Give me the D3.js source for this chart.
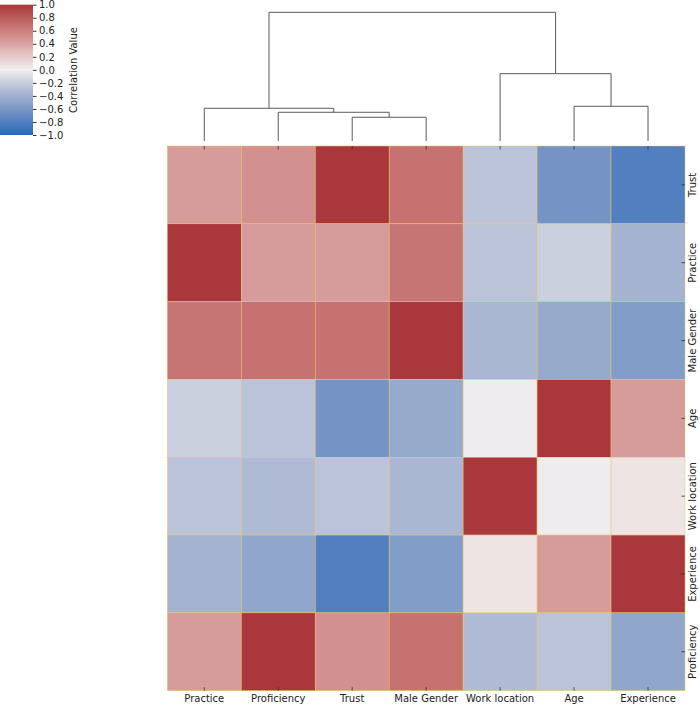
<!DOCTYPE html>
<html>
<head>
<meta charset="utf-8">
<script src="https://cdn.jsdelivr.net/npm/d3@7"></script>
<style>
  body { margin: 0; background: #fff; }
  text { font-family: "DejaVu Sans", sans-serif; fill: #222; }
</style>
</head>
<body>
<div id="chart"></div>
<script>
// correlation matrix, variables in this order
const variables = ["Practice", "Proficiency", "Trust", "Male Gender", "Work location", "Age", "Experience"];
const corr = [
  [ 1.00,  0.44,  0.44,  0.66, -0.26, -0.18, -0.38],
  [ 0.44,  1.00,  0.50,  0.68, -0.32, -0.26, -0.48],
  [ 0.44,  0.50,  1.00,  0.68, -0.26, -0.62, -0.80],
  [ 0.66,  0.68,  0.68,  1.00, -0.35, -0.45, -0.55],
  [-0.26, -0.32, -0.26, -0.35,  1.00, -0.02,  0.06],
  [-0.18, -0.26, -0.62, -0.45, -0.02,  1.00,  0.44],
  [-0.38, -0.48, -0.80, -0.55,  0.06,  0.44,  1.00]
];

// order of rows and columns as shown
const rowOrder = ["Trust", "Practice", "Male Gender", "Age", "Work location", "Experience", "Proficiency"];
const colOrder = ["Practice", "Proficiency", "Trust", "Male Gender", "Work location", "Age", "Experience"];

// column linkage: [left, right, height], clusters named c0, c1, ...
const linkage = [
  ["Trust", "Male Gender", 0.238],
  ["Proficiency", "c0", 0.288],
  ["Practice", "c1", 0.328],
  ["Age", "Experience", 0.348],
  ["Work location", "c3", 0.675],
  ["c2", "c4", 1.29]
];

const cbarTicks = [1.0, 0.8, 0.6, 0.4, 0.2, 0.0, -0.2, -0.4, -0.6, -0.8, -1.0];

// vlag-like diverging colormap
const cmapStops = [-1, -0.75, -0.5, -0.25, 0, 0.25, 0.5, 0.75, 1];
const cmapColors = ["#2369bd", "#5c84c0", "#8ca3c9", "#bcc4d8", "#f2f0f0", "#e4bfbf", "#d29090", "#c06664", "#a9373b"];

const width = 700, height = 705;
const hm = { left: 167.3, top: 146, right: 685, bottom: 690.7 };

const svg = d3.select("#chart").append("svg")
    .attr("width", width)
    .attr("height", height);

const color = d3.scaleLinear()
    .domain(cmapStops)
    .range(cmapColors)
    .interpolate(d3.interpolateRgb)
    .clamp(true);

const x = d3.scaleBand().domain(colOrder).range([hm.left, hm.right]);
const y = d3.scaleBand().domain(rowOrder).range([hm.top, hm.bottom]);

// heatmap cells
const cells = [];
rowOrder.forEach(r => {
  colOrder.forEach(c => {
    cells.push({ r, c, v: corr[variables.indexOf(r)][variables.indexOf(c)] });
  });
});

svg.append("g").selectAll("rect")
  .data(cells)
  .join("rect")
    .attr("x", d => x(d.c))
    .attr("y", d => y(d.r))
    .attr("width", x.bandwidth())
    .attr("height", y.bandwidth())
    .attr("fill", d => color(d.v))
    .attr("stroke", "#ebc566")
    .attr("stroke-width", 0.5);

// ticks (inside) and labels
const tickG = svg.append("g").attr("stroke", "#333").attr("stroke-width", 0.8);
colOrder.forEach(c => {
  const cx = x(c) + x.bandwidth() / 2;
  tickG.append("line").attr("x1", cx).attr("x2", cx).attr("y1", hm.bottom).attr("y2", hm.bottom - 3.5);
  tickG.append("line").attr("x1", cx).attr("x2", cx).attr("y1", hm.top).attr("y2", hm.top + 3.5);
});
rowOrder.forEach(r => {
  const cy = y(r) + y.bandwidth() / 2;
  tickG.append("line").attr("x1", hm.right).attr("x2", hm.right - 3.5).attr("y1", cy).attr("y2", cy);
});

svg.append("g").selectAll("text")
  .data(colOrder)
  .join("text")
    .attr("x", d => x(d) + x.bandwidth() / 2)
    .attr("y", 702)
    .attr("text-anchor", "middle")
    .attr("font-size", 10)
    .text(d => d);

svg.append("g").selectAll("text")
  .data(rowOrder)
  .join("text")
    .attr("transform", d => `translate(695.5,${y(d) + y.bandwidth() / 2}) rotate(-90)`)
    .attr("text-anchor", "middle")
    .attr("font-size", 10)
    .text(d => d);

// dendrogram over columns
const dendY = d3.scaleLinear().domain([0, 1.29]).range([141, 12.3]);
const nodes = {};
colOrder.forEach(c => { nodes[c] = { x: x(c) + x.bandwidth() / 2, h: 0 }; });
const dendG = svg.append("g")
    .attr("fill", "none")
    .attr("stroke", "#5a5a5a")
    .attr("stroke-width", 1);
linkage.forEach(([a, b, h], i) => {
  const na = nodes[a], nb = nodes[b];
  dendG.append("path")
    .attr("d", `M${na.x},${dendY(na.h)}V${dendY(h)}H${nb.x}V${dendY(nb.h)}`);
  nodes["c" + i] = { x: (na.x + nb.x) / 2, h };
});

// colorbar
const cb = { x: 0, w: 33, top: 4.7, bottom: 135 };
const cbY = d3.scaleLinear().domain([-1, 1]).range([cb.bottom, cb.top]);

const grad = svg.append("defs").append("linearGradient")
    .attr("id", "cbar")
    .attr("x1", 0).attr("y1", 1).attr("x2", 0).attr("y2", 0);
d3.range(0, 1.0001, 0.05).forEach(t => {
  grad.append("stop")
    .attr("offset", t)
    .attr("stop-color", color(-1 + 2 * t));
});

svg.append("rect")
    .attr("x", cb.x)
    .attr("y", cb.top)
    .attr("width", cb.w)
    .attr("height", cb.bottom - cb.top)
    .attr("fill", "url(#cbar)");

const cbAxis = svg.append("g")
    .attr("transform", `translate(${cb.x + cb.w},0)`)
    .call(d3.axisRight(cbY)
      .tickValues(cbarTicks)
      .tickSize(3.5)
      .tickPadding(2.5)
      .tickFormat(d => d3.format(".1f")(d).replace("-", "\u2212")));
cbAxis.select(".domain").remove();
cbAxis.selectAll("line").attr("stroke", "#333");
cbAxis.selectAll("text")
    .attr("font-size", 10)
    .attr("font-family", "DejaVu Sans, sans-serif")
    .attr("fill", "#222");

svg.append("text")
    .attr("transform", `translate(76.5,70) rotate(-90)`)
    .attr("text-anchor", "middle")
    .attr("font-size", 10)
    .text("Correlation Value");
</script>
</body>
</html>
